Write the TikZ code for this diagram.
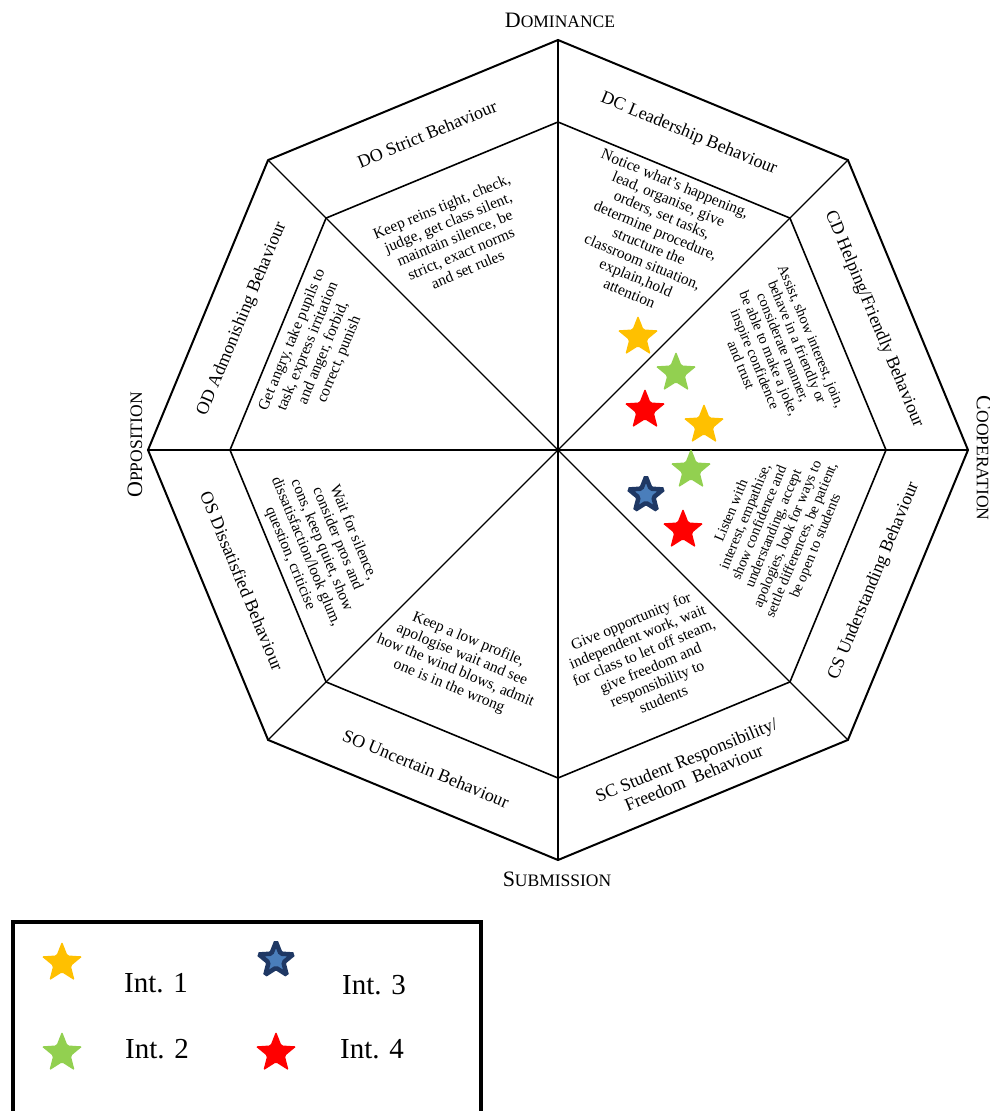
\documentclass[tikz,border=0pt]{standalone}
\usepackage{fontspec}
\setmainfont{Liberation Serif}
\usepackage{tikz}
\usetikzlibrary{calc,shapes.geometric}
\definecolor{IntYellow}{HTML}{FFC000}
\definecolor{IntGreen}{HTML}{92D050}
\definecolor{IntRed}{HTML}{FF0000}
\definecolor{IntBlue}{HTML}{4A7EBB}
\definecolor{IntNavy}{HTML}{1F3864}

\begin{document}
\begin{tikzpicture}[
    x=1pt, y=-1pt,
    title/.style={
      font=\fontsize{18}{19.5}\selectfont,
      align=center,
      inner sep=0pt
    },
    body/.style={
      font=\fontsize{15.5}{17}\selectfont,
      align=center,
      inner sep=0pt
    },
    smallbody/.style={
      body,
      font=\fontsize{14.5}{15.2}\selectfont
    },
    axis/.style={
      font=\fontsize{17.5}{19}\selectfont,
      inner sep=0pt
    },
    intstar/.style={
      star, star points=5, star point ratio=2.3,
      rounded corners=1.5pt,
      fill=#1, draw=none,
      minimum size=43pt, inner sep=0pt
    },
    legtext/.style={
      font=\fontsize{29}{30}\selectfont,
      anchor=base, inner sep=0pt
    }
  ]
  \useasboundingbox (0,0) rectangle (990,1111);

  % octagon
  \coordinate (O) at (558,450);
  \foreach \k in {0,...,7}{
    \coordinate (out\k) at ($(O)+(\k*45:410pt)$);
    \coordinate (in\k) at ($(O)+(\k*45:328pt)$);
  }
  \draw[line width=2pt,line join=miter]
    (out0) -- (out1) -- (out2) -- (out3) -- (out4) -- (out5) -- (out6) -- (out7) -- cycle;
  \draw[line width=1.6pt,line join=miter]
    (in0) -- (in1) -- (in2) -- (in3) -- (in4) -- (in5) -- (in6) -- (in7) -- cycle;
  \foreach \k in {0,...,7}
    \draw[line width=1.3pt] (O) -- (out\k);

  % axes
  \node[axis] (dom) at (560,20) {{\fontsize{22}{22}\selectfont D}OMINANCE};
  \node[axis,rotate=-90] (coop) at (984,458) {{\fontsize{22}{22}\selectfont C}OOPERATION};
  \node[axis] (sub) at (557,879) {{\fontsize{22}{22}\selectfont S}UBMISSION};
  \node[axis,rotate=90] (opp) at (135,445) {{\fontsize{22}{22}\selectfont O}PPOSITION};

  % DO
  \node[title,rotate=22.5] (doT) at ($(O)+(112.5:342pt)$) {DO Strict Behaviour};
  \node[body,rotate=22.5] (doB) at ($(O)+(116:236pt)$)
    {Keep reins tight, check,\\judge, get class silent,\\maintain silence, be\\strict, exact norms\\and set rules};

  % DC
  \node[title,rotate=-22.5] (dcT) at ($(O)+(67.5:342pt)$) {DC Leadership Behaviour};
  \node[body,rotate=-22.5] (dcB) at ($(O)+(66:232pt)$)
    {Notice what's happening,\\lead, organise, give\\orders, set tasks,\\determine procedure,\\structure the\\classroom situation,\\explain,hold\\attention};

  % CD
  \node[title,rotate=-67.5] (cdT) at ($(O)+(22.5:342pt)$) {CD Helping/Friendly Behaviour};
  \node[smallbody,rotate=-67.5] (cdB) at ($(O)+(24.5:240pt)$)
    {Assist, show interest, join,\\behave in a friendly or\\considerate manner,\\be able to make a joke,\\inspire confidence\\and trust};

  % CS
  \node[title,rotate=67.5] (csT) at ($(O)+(-22.5:342pt)$) {CS Understanding Behaviour};
  \node[smallbody,rotate=67.5] (csB) at ($(O)+(-20:230pt)$)
    {Listen with\\interest, empathise,\\show confidence and\\understanding, accept\\apologies, look for ways to\\settle differences, be patient,\\be open to students};

  % SC
  \node[title,rotate=22.5] (scT) at ($(O)+(-67.5:345pt)$) {SC Student Responsibility/\\Freedom\ \ Behaviour};
  \node[body,rotate=22.5] (scB) at ($(O)+(-67:228pt)$)
    {Give opportunity for\\independent work, wait\\for class to let off steam,\\give freedom and\\responsibility to\\students};

  % SO
  \node[title,rotate=-22.5] (soT) at ($(O)+(-112.5:345pt)$) {SO Uncertain Behaviour};
  \node[body,rotate=-22.5] (soB) at ($(O)+(-115:235pt)$)
    {Keep a low profile,\\apologise wait and see\\how the wind blows, admit\\one is in the wrong};

  % OS
  \node[title,rotate=-67.5] (osT) at ($(O)+(-157.5:342pt)$) {OS Dissatisfied Behaviour};
  \node[body,rotate=-67.5] (osB) at ($(O)+(-158:255pt)$)
    {Wait for silence,\\consider pros and\\cons, keep quiet, show\\dissatisfaction/look glum,\\question, criticise};

  % OD
  \node[title,rotate=67.5] (odT) at ($(O)+(157.5:342pt)$) {OD Admonishing Behaviour};
  \node[body,rotate=67.5] (odB) at ($(O)+(157.5:262pt)$)
    {Get angry, take pupils to\\task, express irritation\\and anger, forbid,\\correct, punish};

  % interviews
  \node[intstar=IntYellow] (s1) at (638,337) {};
  \node[intstar=IntGreen] (s2) at (676,373) {};
  \node[intstar=IntRed] (s3) at (645,410) {};
  \node[intstar=IntYellow] (s4) at (704,425) {};
  \node[intstar=IntGreen] (s5) at (691,470) {};
  \node[intstar=IntBlue,draw=IntNavy,line width=4.5pt,minimum size=36pt] (s6) at (646,495) {};
  \node[intstar=IntRed] (s7) at (683,530) {};

  % legend
  \draw[line width=4.5pt] (13,1140) -- (13,922) -- (481,922) -- (481,1140);
  \node[intstar=IntYellow] (lg1) at (62,963) {};
  \node[intstar=IntGreen] (lg2) at (62,1053) {};
  \node[intstar=IntBlue,draw=IntNavy,line width=4.5pt,minimum size=36pt] (lg3) at (276,960) {};
  \node[intstar=IntRed] (lg4) at (276,1053) {};
  \node[legtext] (lt1) at (156,992) {Int. 1};
  \node[legtext] (lt2) at (157,1058) {Int. 2};
  \node[legtext] (lt3) at (374,994) {Int. 3};
  \node[legtext] (lt4) at (372,1058) {Int. 4};

\end{tikzpicture}
\end{document}
